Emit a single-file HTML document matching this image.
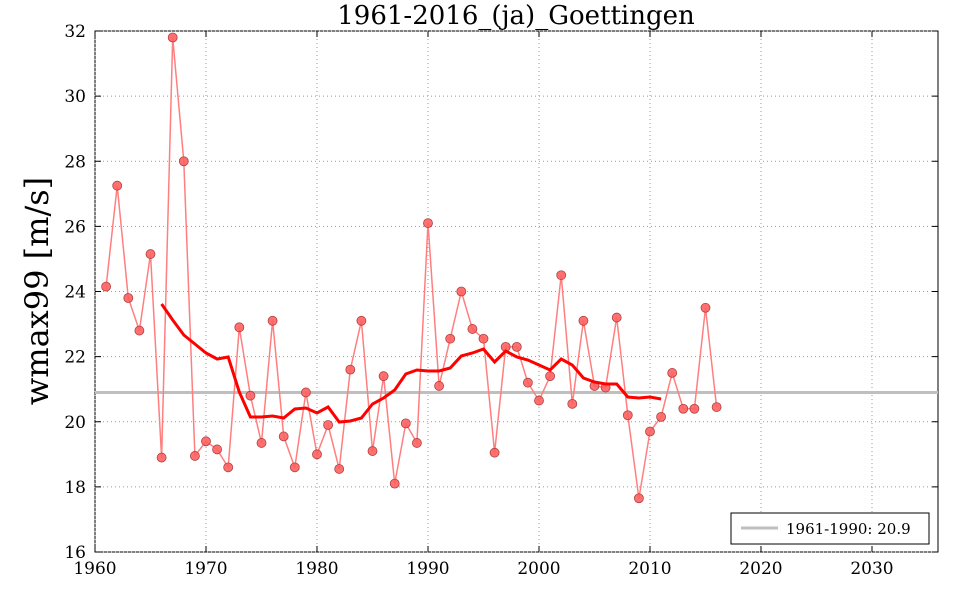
<!DOCTYPE html>
<html><head><meta charset="utf-8"><style>body{margin:0;background:#fff}svg{display:block}</style></head><body>
<svg id="s" width="960" height="600" xmlns="http://www.w3.org/2000/svg" font-family="'DejaVu Serif','Liberation Serif',serif"></svg>
<script>
const s=document.getElementById('s');
const X=y=>95+(y-1960)*11.1, Y=v=>31+(32-v)*32.5625;
let h='<rect x="95" y="31" width="843" height="521" fill="#fff" stroke="#000" stroke-width="1"/>';
for(let yr=1960;yr<=2030;yr+=10){const x=X(yr);
 h+=`<line x1="${x}" y1="31" x2="${x}" y2="552" stroke="#999" stroke-dasharray="1,3"/>`;
 h+=`<line x1="${x}" y1="552" x2="${x}" y2="546" stroke="#000"/><line x1="${x}" y1="31" x2="${x}" y2="37" stroke="#000"/>`;
 h+=`<text x="${x}" y="574" font-size="17" text-anchor="middle">${yr}</text>`;}
for(let v=16;v<=32;v+=2){const y=Y(v);
 h+=`<line x1="95" y1="${y}" x2="938" y2="${y}" stroke="#999" stroke-dasharray="1,3"/>`;
 h+=`<line x1="95" y1="${y}" x2="101" y2="${y}" stroke="#000"/><line x1="938" y1="${y}" x2="932" y2="${y}" stroke="#000"/>`;
 h+=`<text x="86" y="${y+6}" font-size="17" text-anchor="end">${v}</text>`;}
h+=`<line x1="95" y1="${Y(20.9)}" x2="938" y2="${Y(20.9)}" stroke="#bfbfbf" stroke-width="3"/>`;
const d=[24.15,27.25,23.8,22.8,25.15,18.9,31.8,28.0,18.95,19.4,19.15,18.6,22.9,20.8,19.35,23.1,19.55,18.6,20.9,19.0,19.9,18.55,21.6,23.1,19.1,21.4,18.1,19.95,19.35,26.1,21.1,22.55,24.0,22.85,22.55,19.05,22.3,22.3,21.2,20.65,21.4,24.5,20.55,23.1,21.1,21.05,23.2,20.2,17.65,19.7,20.15,21.5,20.4,20.4,23.5,20.45];
const pts=d.map((v,i)=>[X(1961+i),Y(v)]);
h+=`<polyline points="${pts.map(p=>p.join(',')).join(' ')}" fill="none" stroke="#ff7f7f" stroke-width="1.5"/>`;
pts.forEach(p=>h+=`<circle cx="${p[0]}" cy="${p[1]}" r="4.5" fill="#ff6060" fill-opacity="0.9" stroke="#b04040" stroke-width="0.8"/>`);
const ma=[304,320,335,344,353,359,357,392,417,417,416,418,409,408,413,407,422,421,418,404,398,390,374,370,371,371,368,356,353,349,362,351,357,360,365,370,359,365,378,382,384,384,397,398,397,399];
h+=`<polyline points="${ma.map((y,i)=>X(1966+i)+','+y).join(' ')}" fill="none" stroke="#f00" stroke-width="3"/>`;
h+=`<text x="516" y="24" font-size="26" text-anchor="middle">1961-2016_(ja)_Goettingen</text>`;
h+=`<text transform="translate(48,291) rotate(-90)" font-size="32" text-anchor="middle">wmax99 [m/s]</text>`;
h+=`<rect x="731" y="513" width="198" height="31" fill="#fff" stroke="#000"/><line x1="741" y1="528" x2="778" y2="528" stroke="#bfbfbf" stroke-width="3"/><text x="786" y="534" font-size="15">1961-1990: 20.9</text>`;
s.innerHTML=h;
</script>
</body></html>
